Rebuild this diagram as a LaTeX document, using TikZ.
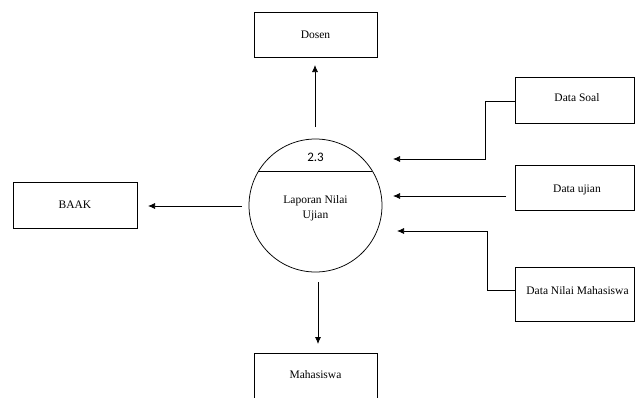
\documentclass[tikz,border=0pt]{standalone}
\usepackage{fontspec}
\setmainfont{Liberation Serif}
\newfontfamily\numfont{Carlito}
\usetikzlibrary{arrows.meta}
\begin{document}
\begin{tikzpicture}[x=1pt,y=-1pt,
  ent/.style={draw,line width=0.75pt,minimum width=123pt,minimum height=45pt,inner sep=0pt,font=\fontsize{11.5}{13.5}\selectfont},
  flow/.style={line width=0.75pt,-{Latex[length=7pt,width=6pt]}},
  lbl/.style={font=\fontsize{11.5}{15}\selectfont,align=center}]
\useasboundingbox (0,0) rectangle (635,397);
% process
\node[draw,circle,line width=0.75pt,minimum size=133pt,inner sep=0pt] (p) at (315.5,205.5) {};
\coordinate (pl) at (258,171);
\coordinate (pr) at (372,171);
\draw[line width=0.75pt] (pl) -- (pr);
\node[font=\numfont\fontsize{13}{15}\selectfont] (pid) at (315.5,157) {2.3};
\node[lbl] (pname) at (315.5,208) {Laporan Nilai\\Ujian};
% entities
\node[ent] (dosen) at (315.5,34.5) {Dosen};
\node[ent,minimum width=124pt,minimum height=46pt] (baak) at (75,205) {BAAK};
\node[ent,anchor=north west,minimum height=50pt] (mhs) at (254,353) {};
\node[lbl] (mhst) at (315.5,375) {Mahasiswa};
\node[ent,anchor=north west,minimum width=119pt,minimum height=46pt] (soal) at (515,77) {};
\node[lbl] (soalt) at (577,98) {Data Soal};
\node[ent,anchor=north west,minimum width=119pt,minimum height=45pt] (ujian) at (515,165) {};
\node[lbl] (ujiant) at (577,190) {Data ujian};
\node[ent,anchor=north west,minimum width=119pt,minimum height=54pt] (nilai) at (515,267) {};
\node[lbl] (nilait) at (577.5,291) {Data Nilai Mahasiswa};
% flows
\coordinate (d0) at (315,127);
\coordinate (d1) at (315,65);
\draw[flow] (d0) -- (d1);
\coordinate (b0) at (242,206);
\coordinate (b1) at (148,206);
\draw[flow] (b0) -- (b1);
\coordinate (m0) at (318,282);
\coordinate (m1) at (318,344);
\draw[flow] (m0) -- (m1);
\coordinate (s0) at (515,101);
\coordinate (s1) at (485,101);
\coordinate (s2) at (485,159);
\coordinate (s3) at (393,159);
\draw[flow] (s0) -- (s1) -- (s2) -- (s3);
\coordinate (u0) at (506,196);
\coordinate (u1) at (393,196);
\draw[flow] (u0) -- (u1);
\coordinate (n0) at (515,290);
\coordinate (n1) at (487,290);
\coordinate (n2) at (487,231);
\coordinate (n3) at (397,231);
\draw[flow] (n0) -- (n1) -- (n2) -- (n3);
\end{tikzpicture}
\end{document}
